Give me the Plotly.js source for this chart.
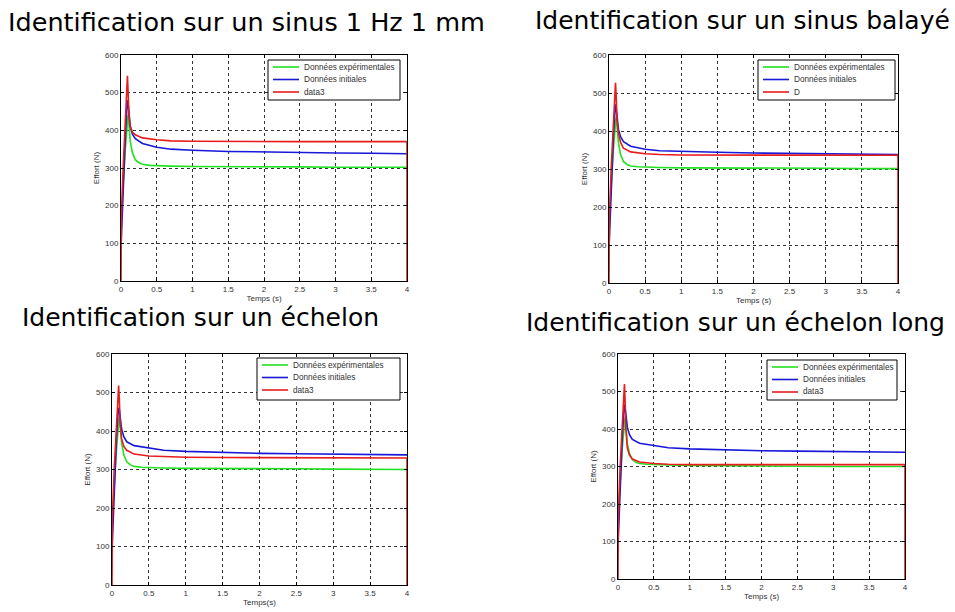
<!DOCTYPE html>
<html><head><meta charset="utf-8">
<script src="https://cdn.plot.ly/plotly-3.0.1.min.js"></script>
<style>body{margin:0;background:#fff}#c{width:955px;height:612px}</style>
</head><body><div id="c"></div>
<script>
// ---- Data ----
const titles = ["Identification sur un sinus 1 Hz 1 mm", "Identification sur un sinus balayé", "Identification sur un échelon", "Identification sur un échelon long"];
const seriesNames = [["Données expérimentales","Données initiales","data3"],["Données expérimentales","Données initiales","D"],["Données expérimentales","Données initiales","data3"],["Données expérimentales","Données initiales","data3"]];
const xLabels = ["Temps (s)","Temps (s)","Temps(s)","Temps (s)"];
const yLabel = "Effort (N)";
const xTicks = [0,0.5,1,1.5,2,2.5,3,3.5,4];
const yTicks = [0,100,200,300,400,500,600];

const tGreen = [0,0.03,0.06,0.09,0.1,0.11,0.13,0.16,0.2,0.25,0.3,0.4,0.5,0.7,1,1.5,2,2.5,3,3.5,4];
const tBlue  = [0,0.03,0.06,0.08,0.09,0.1,0.11,0.13,0.16,0.2,0.3,0.5,0.7,1,1.5,2,2.5,3,3.5,4];
const tRed   = [0,0.005,0.03,0.06,0.08,0.09,0.1,0.11,0.13,0.16,0.2,0.3,0.5,0.7,1,1.5,2,2.5,3,3.5,4,4];

const green1 = [160,260,350,420,440,420,370,340,322,314,310,307,306,305,304,304,303,303,302,302,302];
const blue1  = [90,250,380,450,480,470,440,410,390,378,365,355,350,347,344,342,341,340,339,338];
const red1   = [0,170,300,420,520,545,500,440,410,395,388,380,375,372,371,370,370,370,370,370,370,0];

const green2 = [160,260,350,420,435,415,370,338,320,312,308,306,305,304,303,303,302,302,302,301,301];
const blue2  = [90,250,380,445,470,460,435,405,385,372,360,352,348,346,344,342,341,340,339,338];
const red2   = [0,170,300,420,505,527,490,430,395,370,355,345,340,338,337,337,337,337,337,336,336,0];

const green3 = [160,260,350,420,435,415,370,338,320,312,308,306,305,304,303,303,302,302,301,301,300];
const blue3  = [90,250,380,440,460,455,430,405,385,372,362,355,350,347,344,342,341,340,339,338];
const red3   = [0,170,300,420,500,518,480,420,380,360,350,340,335,333,332,331,331,330,330,330,330,0];

const green4 = [160,260,350,415,430,410,360,335,318,311,308,306,305,304,303,302,301,301,300,300,300];
const blue4  = [90,250,380,440,465,455,430,405,385,372,362,355,350,347,344,342,341,340,339,338];
const red4   = [0,170,300,420,500,520,470,400,350,330,320,312,308,306,305,305,305,305,305,305,305,0];

const greens = [green1,green2,green3,green4];
const blues = [blue1,blue2,blue3,blue4];
const reds = [red1,red2,red3,red4];

// ---- Layout geometry (pixels) ----
const W = 955, H = 612;
const boxes = [ // [left,right,top,bottom]
  [121,407,55,281],[609,898,55,283],[112,407,354,585],[618,905,354,579]
];
const legendBox = [[268,400,60,100],[758,895,60,100],[257,400,358,400],[767,897,360,400]];
const titlePos = [[247,22],[742,21],[200,317],[735,322]];
const titleSizes = [25.5,25,25,25];

const colors = ["#22e022","#1818d8","#e81c1c"];
const traces = [];
const px = v => v/W, py = v => 1-v/H;
const layout = {
  width: W, height: H, margin:{l:0,r:0,t:0,b:0}, paper_bgcolor:"#fff", plot_bgcolor:"#fff",
  font:{family:"Liberation Sans, Arial, sans-serif", size:8, color:"#333"},
  showlegend:false, annotations:[], shapes:[]
};
for (let i=0;i<4;i++){
  const ax = i===0?"":String(i+1);
  const [l,r,t,b] = boxes[i];
  const xs = [tGreen,tBlue,tRed];
  const ys = [greens[i],blues[i],reds[i]];
  for (let s=0;s<3;s++){
    traces.push({x:xs[s], y:ys[s], type:"scatter", mode:"lines", name:seriesNames[i][s],
      xaxis:"x"+ax, yaxis:"y"+ax, line:{color:colors[s], width:1.6}});
  }
  const axCommon = {showline:true, linecolor:"#000", linewidth:1, mirror:"ticks", ticks:"inside", ticklen:3,
    tickcolor:"#000", showgrid:true, gridcolor:"#000", griddash:"dot", gridwidth:0.8, zeroline:false,
    tickfont:{size:8,color:"#333"}};
  layout["xaxis"+ax] = Object.assign({}, axCommon, {domain:[px(l), px(r)], range:[0,4], tickvals:xTicks,
    anchor:"y"+ax, title:{text:xLabels[i], font:{size:8,color:"#333"}, standoff:2}});
  layout["yaxis"+ax] = Object.assign({}, axCommon, {domain:[py(b), py(t)], range:[0,600], tickvals:yTicks,
    anchor:"x"+ax, title:{text:yLabel, font:{size:8,color:"#333"}, standoff:4}});
  // custom legend box (MATLAB style)
  const [ll,lr,lt,lb] = legendBox[i];
  layout.shapes.push({type:"rect", xref:"paper", yref:"paper", x0:px(ll), x1:px(lr), y0:py(lb), y1:py(lt),
    line:{color:"#000", width:1}, fillcolor:"#fff", layer:"above"});
  for (let s=0;s<3;s++){
    const yy = lt + 7 + s*12.5;
    layout.shapes.push({type:"line", xref:"paper", yref:"paper", x0:px(ll+5), x1:px(ll+31), y0:py(yy), y1:py(yy),
      line:{color:colors[s], width:1.6}, layer:"above"});
    layout.annotations.push({text:seriesNames[i][s], x:px(ll+34), y:py(yy), xref:"paper", yref:"paper",
      xanchor:"left", yanchor:"middle", showarrow:false, font:{size:8.2,color:"#333"}});
  }
  layout.annotations.push({text:titles[i], x:px(titlePos[i][0]), y:py(titlePos[i][1]), xref:"paper", yref:"paper",
    xanchor:"center", yanchor:"middle", showarrow:false, font:{size:titleSizes[i],color:"#000",family:"DejaVu Sans, sans-serif"}});
}
Plotly.newPlot("c", traces, layout, {displayModeBar:false, staticPlot:true});
</script></body></html>
